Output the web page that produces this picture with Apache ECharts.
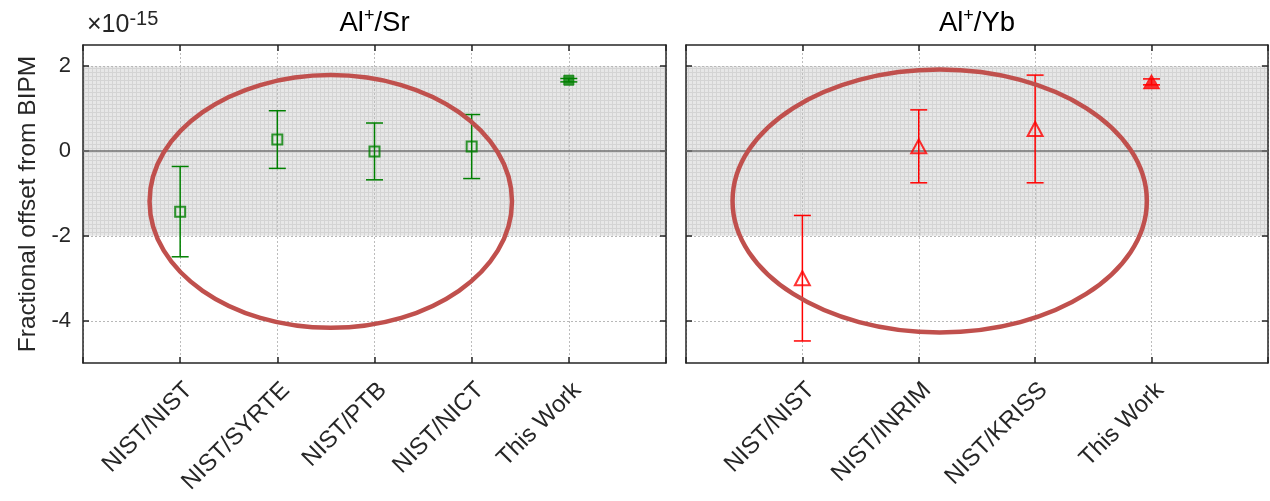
<!DOCTYPE html>
<html><head><meta charset="utf-8">
<script src="https://cdn.jsdelivr.net/npm/echarts@6/dist/echarts.min.js"></script>
<style>html,body{margin:0;padding:0;background:#fff}#c{width:1270px;height:501px}</style>
</head><body><div id="c"></div>
<script>
// ---- data ----
const srCategories = ['NIST/NIST', 'NIST/SYRTE', 'NIST/PTB', 'NIST/NICT', 'This Work'];
const srValues = [-1.43, 0.27, -0.01, 0.105, 1.67];
const srErrors = [1.065, 0.68, 0.67, 0.755, 0.04];
const ybCategories = ['NIST/NIST', 'NIST/INRIM', 'NIST/KRISS', 'This Work'];
const ybValues = [-3.0, 0.11, 0.52, 1.63];
const ybErrors = [1.48, 0.86, 1.27, 0.07];
const yTickValues = [-4, -2, 0, 2];
const bandLimits = [-2, 2];
const zeroLine = 0;
const srEllipse = [2.55, -1.19, 1.865, 2.98];   // centre x, centre y, half-width, half-height (data units)
const ybEllipse = [2.18, -1.18, 1.78, 3.10];
const titles = ['Al|+|/Sr', 'Al|+|/Yb'];
const exponentText = ['×10', '-15'];
const yAxisTitle = 'Fractional offset from BIPM';

// ---- styles ----
const FONT = '"Liberation Sans", Arial, Helvetica, sans-serif';
const INK = '#262626';
const GREEN = '#008000';
const RED = '#ff0000';
const ELLIPSE = '#c0504d';
const ownWork = 'This Work';

function makePattern() {
  const c = document.createElement('canvas');
  c.width = 4; c.height = 4;
  const g = c.getContext('2d');
  g.fillStyle = '#e7e7e7'; g.fillRect(0, 0, 4, 4);
  g.fillStyle = '#d4d4d4'; g.fillRect(0, 0, 4, 1); g.fillRect(0, 0, 1, 4);
  return c;
}
const patternCanvas = makePattern();

const chart = echarts.init(document.getElementById('c'), null, {renderer: 'canvas'});

const grids = [
  {left: 83, top: 45, width: 583, height: 318},
  {left: 686, top: 45, width: 582, height: 318}
];
const panels = [
  {cats: srCategories, vals: srValues, errs: srErrors, ell: srEllipse, color: GREEN, symbol: 'rect', size: 10, openSize: 10},
  {cats: ybCategories, vals: ybValues, errs: ybErrors, ell: ybEllipse, color: RED, symbol: 'triangle', size: [16, 14], openSize: [15, 14]}
];

const xAxes = [], yAxes = [], series = [];
panels.forEach((p, gi) => {
  const n = p.cats.length;
  const lineStyle = {color: INK, width: 1.5};
  xAxes.push({
    gridIndex: gi, type: 'value', min: 0, max: n + 1, interval: 1, position: 'bottom',
    axisLine: {show: true, onZero: false, lineStyle},
    axisTick: {show: true, inside: true, length: 6, lineStyle},
    axisLabel: {rotate: 45, margin: 15, fontSize: 24, color: INK, fontFamily: FONT,
      align: 'right', verticalAlign: 'top',
      formatter: v => p.cats[v - 1] || ''},
    splitLine: {show: true, lineStyle: {color: '#bcbcbc', type: [2, 2], width: 1}}
  });
  xAxes.push({
    gridIndex: gi, type: 'value', min: 0, max: n + 1, interval: 1, position: 'top',
    axisLine: {show: true, onZero: false, lineStyle},
    axisTick: {show: true, inside: true, length: 6, lineStyle},
    axisLabel: {show: false}, splitLine: {show: false}
  });
  yAxes.push({
    gridIndex: gi, type: 'value', min: -5, max: 2.5, position: 'left',
    axisLine: {show: true, onZero: false, lineStyle},
    axisTick: {show: true, inside: true, length: 6, lineStyle, customValues: yTickValues},
    axisLabel: {show: gi === 0, customValues: yTickValues, margin: 12, fontSize: 22, color: INK, fontFamily: FONT},
    splitLine: {show: false},
    name: gi === 0 ? yAxisTitle : '', nameLocation: 'middle', nameGap: 42,
    nameTextStyle: {fontSize: 24.5, color: INK, fontFamily: FONT}
  });
  yAxes.push({
    gridIndex: gi, type: 'value', min: -5, max: 2.5, position: 'right',
    axisLine: {show: true, onZero: false, lineStyle},
    axisTick: {show: true, inside: true, length: 6, lineStyle, customValues: yTickValues},
    axisLabel: {show: false}, splitLine: {show: false}
  });
  const xi = gi * 2, yi = gi * 2;

  // band
  series.push({
    type: 'custom', xAxisIndex: xi, yAxisIndex: yi, z: -2, silent: true,
    encode: {y: [0, 1]},
    data: [bandLimits],
    renderItem: (params, api) => {
      const cs = params.coordSys;
      const a = api.coord([0, api.value(0)])[1];
      const b = api.coord([0, api.value(1)])[1];
      return {type: 'rect', shape: {x: cs.x, y: Math.min(a, b), width: cs.width, height: Math.abs(b - a)},
        style: {fill: {image: patternCanvas, repeat: 'repeat'}}};
    }
  });
  // horizontal grid lines
  series.push({
    type: 'custom', xAxisIndex: xi, yAxisIndex: yi, z: -1, silent: true,
    encode: {y: 0},
    data: yTickValues.filter(v => v !== zeroLine).map(v => [v]),
    renderItem: (params, api) => {
      const cs = params.coordSys;
      const y = Math.round(api.coord([0, api.value(0)])[1]) + 0.5;
      return {type: 'line', shape: {x1: cs.x, y1: y, x2: cs.x + cs.width, y2: y},
        style: {stroke: '#b8b8b8', lineWidth: 1, lineDash: [2, 2]}};
    }
  });
  // zero line
  series.push({
    type: 'custom', xAxisIndex: xi, yAxisIndex: yi, z: 1, silent: true,
    encode: {y: 0},
    data: [[zeroLine]],
    renderItem: (params, api) => {
      const cs = params.coordSys;
      const y = api.coord([0, api.value(0)])[1];
      return {type: 'line', shape: {x1: cs.x, y1: y, x2: cs.x + cs.width, y2: y},
        style: {stroke: '#707070', lineWidth: 1.5}};
    }
  });
  // error bars
  series.push({
    type: 'custom', xAxisIndex: xi, yAxisIndex: yi, z: 2, silent: true,
    encode: {x: 0, y: [1, 2]},
    data: p.vals.map((v, i) => [i + 1, v - p.errs[i], v + p.errs[i]]),
    renderItem: (params, api) => {
      const lo = api.coord([api.value(0), api.value(1)]);
      const hi = api.coord([api.value(0), api.value(2)]);
      const w = 8.5;
      const st = {stroke: p.color, lineWidth: 1.5};
      return {type: 'group', children: [
        {type: 'line', shape: {x1: lo[0], y1: lo[1], x2: hi[0], y2: hi[1]}, style: st},
        {type: 'line', shape: {x1: lo[0] - w, y1: lo[1], x2: lo[0] + w, y2: lo[1]}, style: st},
        {type: 'line', shape: {x1: hi[0] - w, y1: hi[1], x2: hi[0] + w, y2: hi[1]}, style: st}
      ]};
    }
  });
  // markers
  series.push({
    type: 'scatter', xAxisIndex: xi, yAxisIndex: yi, z: 3, silent: true,
    symbol: p.symbol,
    data: p.vals.map((v, i) => {
      const own = p.cats[i] === ownWork;
      return {value: [i + 1, v], symbolSize: own ? p.size : p.openSize,
        itemStyle: own ? {color: p.color, borderColor: p.color, borderWidth: 1}
                       : {color: 'rgba(0,0,0,0)', borderColor: p.color, borderWidth: 2}};
    })
  });
  // highlight ellipse
  series.push({
    type: 'custom', xAxisIndex: xi, yAxisIndex: yi, z: 4, silent: true,
    encode: {x: [0], y: [1]},
    data: [p.ell],
    renderItem: (params, api) => {
      const c = api.coord([api.value(0), api.value(1)]);
      const s = api.size([api.value(2), api.value(3)]);
      return {type: 'ellipse', shape: {cx: c[0], cy: c[1], rx: s[0], ry: s[1]},
        style: {fill: 'none', stroke: ELLIPSE, lineWidth: 4.5}};
    }
  });
});

function richTitle(t) {
  const parts = t.split('|');
  return '{a|' + parts[0] + '}{s|' + parts[1] + '}{a|' + parts[2] + '}';
}
const titleRich = {
  a: {fontSize: 27.5, fontFamily: FONT, fontWeight: 'normal', color: '#000', lineHeight: 32},
  s: {fontSize: 18, fontFamily: FONT, fontWeight: 'normal', color: '#000', lineHeight: 32, verticalAlign: 'top'}
};
const titleShift = -5;

chart.setOption({
  animation: false,
  backgroundColor: '#fff',
  title: [
    {text: richTitle(titles[0]), left: grids[0].left + grids[0].width / 2 + titleShift, top: 2, textAlign: 'center',
      textStyle: {fontWeight: 'normal', rich: titleRich}},
    {text: richTitle(titles[1]), left: grids[1].left + grids[1].width / 2 + titleShift, top: 2, textAlign: 'center',
      textStyle: {fontWeight: 'normal', rich: titleRich}},
    {text: '{a|' + exponentText[0] + '}{s|' + exponentText[1] + '}', left: 82, top: 4,
      textStyle: {fontWeight: 'normal', rich: {
        a: {fontSize: 25, fontFamily: FONT, fontWeight: 'normal', color: INK, lineHeight: 32},
        s: {fontSize: 20, fontFamily: FONT, fontWeight: 'normal', color: INK, lineHeight: 32, verticalAlign: 'top'}
      }}}
  ],
  grid: grids,
  xAxis: xAxes,
  yAxis: yAxes,
  series: series
});
</script>
</body></html>
